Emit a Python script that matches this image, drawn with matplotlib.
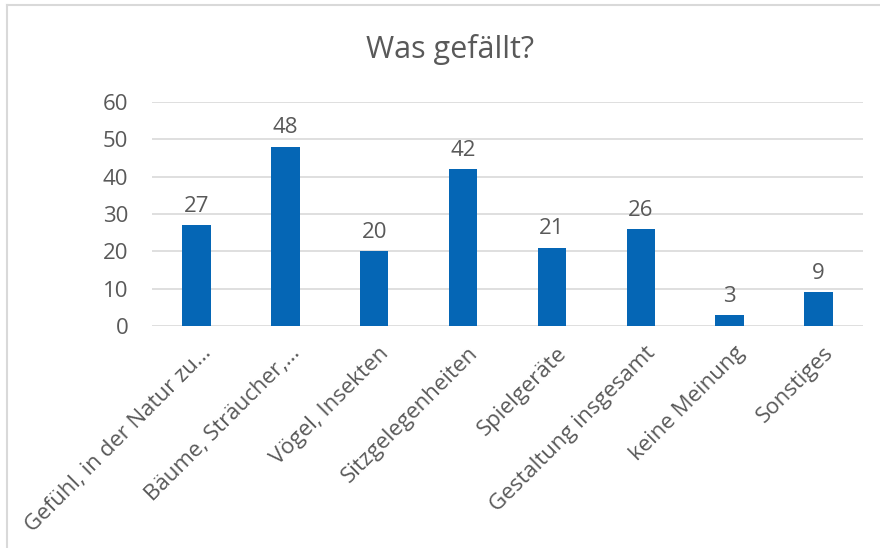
import matplotlib.pyplot as plt
import matplotlib.transforms as mtransforms
from matplotlib.lines import Line2D

plt.rcParams['font.family'] = ['Open Sans', 'DejaVu Sans']

categories = ['Gefühl, in der Natur zu…', 'Bäume, Sträucher,…', 'Vögel, Insekten',
              'Sitzgelegenheiten', 'Spielgeräte', 'Gestaltung insgesamt',
              'keine Meinung', 'Sonstiges']
values = [27, 48, 20, 42, 21, 26, 3, 9]
yticks = [0, 10, 20, 30, 40, 50, 60]

text_color = '#595959'
bar_color = '#0566B5'
grid_color = '#D9D9D9'

fig = plt.figure(figsize=(8.8, 5.48), dpi=100)
ax = fig.add_axes([0.1727, 0.405, 0.808, 0.409])

x = range(len(categories))
bars = ax.bar(x, values, width=0.32, color=bar_color, zorder=3)
for b, v in zip(bars, values):
    ax.annotate(str(v), (b.get_x() + b.get_width() / 2, v), xytext=(0, 6),
                textcoords='offset points', ha='center', va='bottom',
                fontsize=16, color=text_color)

ax.set_xlim(-0.5, len(categories) - 0.5)
ax.set_ylim(0, 60)
ax.set_yticks(yticks)
ax.yaxis.grid(True, color=grid_color, linewidth=1.2, zorder=0)
for s in ax.spines.values():
    s.set_visible(False)
ax.tick_params(axis='both', length=0, labelsize=16, labelcolor=text_color)
ax.tick_params(axis='y', pad=17)
ax.set_xticks(list(x))
ax.set_xticklabels(categories, rotation=45, ha='right', va='top',
                   rotation_mode='anchor')
ax.tick_params(axis='x', pad=12)
shift = mtransforms.ScaledTranslation(0.04, 0, fig.dpi_scale_trans)
for lbl in ax.get_xticklabels():
    lbl.set_transform(lbl.get_transform() + shift)

fig.text(0.511, 0.91, 'Was gefällt?', ha='center', va='center',
         fontsize=22, color=text_color)

# chart frame (top and left edge visible in the original)
fig.add_artist(Line2D([0.008, 1], [0.991, 0.991], color=grid_color, lw=1.5,
                      transform=fig.transFigure))
fig.add_artist(Line2D([0.008, 0.008], [0, 0.991], color=grid_color, lw=1.5,
                      transform=fig.transFigure))

fig.savefig('out.png', dpi=100)
